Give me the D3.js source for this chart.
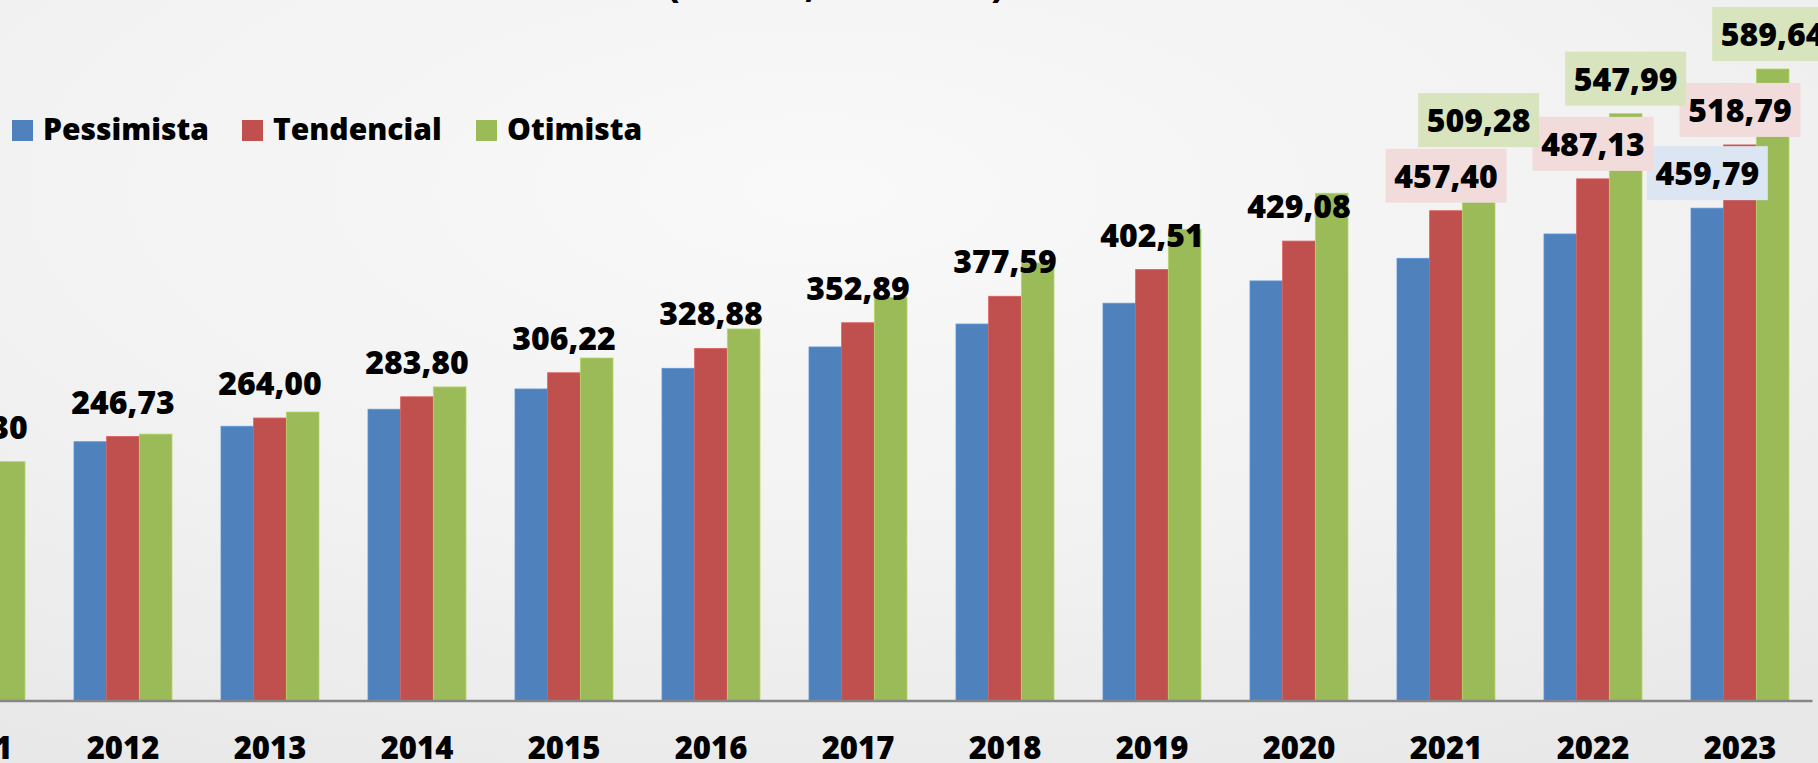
<!DOCTYPE html>
<html>
<head>
<meta charset="utf-8">
<script src="https://cdn.jsdelivr.net/npm/d3@7"></script>
<style>
  html, body { margin: 0; padding: 0; overflow: hidden; }
  svg { display: block; }
  text { font-family: "Open Sans", "DejaVu Sans", sans-serif; font-weight: 800; fill: #000; }
</style>
</head>
<body>
<script>
// ---- data ----
const years = ["2011","2012","2013","2014","2015","2016","2017","2018","2019","2020","2021","2022","2023"];
const seriesNames = ["Pessimista", "Tendencial", "Otimista"];
const pessimista = [223.30, 241.90, 256.30, 272.20, 291.10, 310.40, 330.30, 351.70, 371.10, 391.90, 413.00, 435.70, 459.79];
const tendencial = [223.30, 246.73, 264.00, 283.80, 306.22, 328.88, 352.89, 377.59, 402.51, 429.08, 457.40, 487.13, 518.79];
const otimista   = [223.30, 249.00, 269.60, 293.00, 320.00, 347.10, 376.60, 408.60, 440.10, 473.70, 509.28, 547.99, 589.64];
// labelled points: [series index, year, boxed]
const labelPoints = [
  [1,"2011",false],[1,"2012",false],[1,"2013",false],[1,"2014",false],[1,"2015",false],
  [1,"2016",false],[1,"2017",false],[1,"2018",false],[1,"2019",false],[1,"2020",false],
  [0,"2023",true],
  [1,"2021",true],[1,"2022",true],[1,"2023",true],
  [2,"2021",true],[2,"2022",true],[2,"2023",true]
];
const titleText = "(bilhões, base 2011)";

// ---- styles ----
const W = 1818, H = 763;
const colors = ["#4f81bd", "#c0504d", "#9bbb59"];
const boxFills = ["#dce6f2", "#f2dcdb", "#d7e4bd"];
const values = [pessimista, tendencial, otimista];

const svg = d3.select("body").append("svg").attr("width", W).attr("height", H);

const defs = svg.append("defs");
const grad = defs.append("radialGradient").attr("id", "bg")
  .attr("cx", "0.45").attr("cy", "0.25").attr("r", "0.85");
grad.append("stop").attr("offset", "0").attr("stop-color", "#f9f9f9");
grad.append("stop").attr("offset", "0.6").attr("stop-color", "#f1f1f1");
grad.append("stop").attr("offset", "1").attr("stop-color", "#e8e8e8");
svg.append("rect").attr("width", W).attr("height", H).attr("fill", "url(#bg)");

// scales
const x = d3.scaleBand().domain(years).range([-97.5, 1813.5]).paddingInner(1/3).paddingOuter(1/6);
const xs = d3.scaleBand().domain(d3.range(3)).range([0, x.bandwidth()]);
const y = d3.scaleLinear().domain([0, 654]).range([701, 0]);

// bars
seriesNames.forEach((name, si) => {
  svg.append("g").selectAll("rect").data(years).join("rect")
    .attr("x", d => x(d) + xs(si))
    .attr("y", (d, i) => y(values[si][i]))
    .attr("width", xs.bandwidth())
    .attr("height", (d, i) => y(0) - y(values[si][i]))
    .attr("fill", colors[si])
    .attr("stroke", d3.color(colors[si]).brighter(0.4))
    .attr("stroke-width", 0.8);
});

// axis
const axis = d3.axisBottom(x).tickSize(0).tickPadding(0);
const gAxis = svg.append("g").attr("transform", `translate(0,${y(0)})`).call(axis);
gAxis.select(".domain").attr("stroke", "#878787").attr("stroke-width", 2.5)
  .attr("d", `M${x.range()[0]},0H${x.range()[1] - 1}`);
gAxis.selectAll(".tick text")
  .attr("y", 58).attr("dy", 0)
  .style("font-family", "'Open Sans', sans-serif").style("font-weight", 800)
  .style("font-size", "31px").attr("fill", "#000");

// labels
const fmt = v => d3.format(".2f")(v).replace(".", ",");
const gl = svg.append("g");
labelPoints.forEach(([si, yr, boxed]) => {
  const i = years.indexOf(yr);
  const v = values[si][i];
  const cx = x(yr) + xs(si) + xs.bandwidth() / 2;
  const base = y(v) - 23;
  if (boxed) {
    gl.append("rect").attr("x", cx - 60.5).attr("y", base - 39)
      .attr("width", 121).attr("height", 54).attr("fill", boxFills[si]);
  }
  gl.append("text").attr("x", cx).attr("y", base).attr("text-anchor", "middle")
    .style("font-size", "32px").text(fmt(v));
});

// legend
const legend = svg.append("g");
const legX = [12, 242, 476];
seriesNames.forEach((name, si) => {
  legend.append("rect").attr("x", legX[si]).attr("y", 120).attr("width", 21).attr("height", 21).attr("fill", colors[si]);
  legend.append("text").attr("x", legX[si] + 31).attr("y", 140).style("font-size", "30px").text(name);
});

// title (mostly above the visible area)
svg.append("text").attr("x", 668).attr("y", -2.5)
  .attr("textLength", 335).attr("lengthAdjust", "spacing")
  .style("font-size", "32px").text(titleText);
</script>
</body>
</html>
